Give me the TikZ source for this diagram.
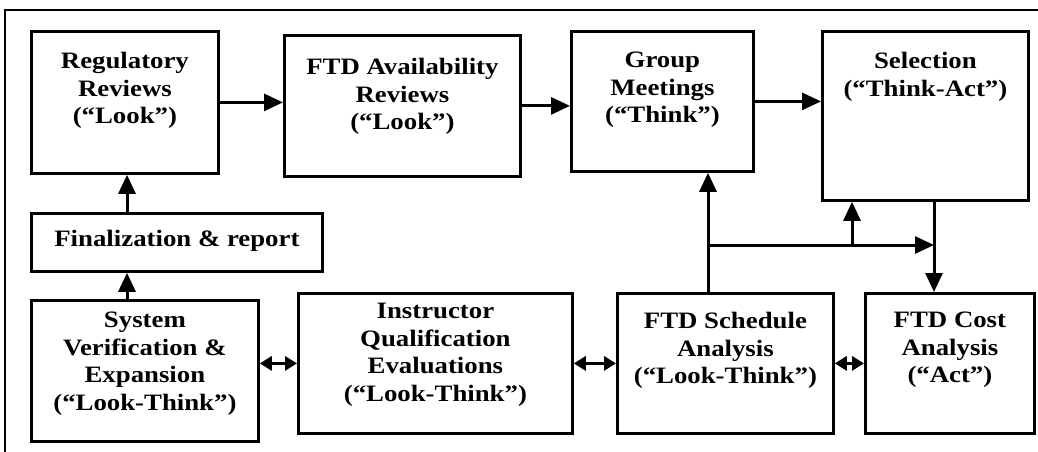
\documentclass[tikz,border=0pt]{standalone}
\usepackage{fontspec}
\setmainfont{Liberation Serif}[FakeStretch=1.14]
\usepackage{tikz}
\usetikzlibrary{arrows.meta,positioning,calc}

\begin{document}
\begin{tikzpicture} [x=1pt, y=-1pt,
	   activitybox/.style 2 args = {rectangle, minimum width=#1, minimum height=#2,
	                                line width=2.8pt, draw=black, inner sep=0pt, anchor=north west},
	   boxtext/.style = {font=\bfseries\fontsize{23.5}{27.5}\selectfont, align=center, inner sep=0pt},
	   arrowline/.style = {line width=3pt, -{Triangle[length=19pt,width=17pt]}},
	   twoway/.style = {line width=3pt, {Triangle[length=12pt,width=14pt]}-{Triangle[length=12pt,width=14pt]}}]
	\useasboundingbox (0,0) rectangle (1038,452);
	%% Frame
	\draw [line width=1.8pt] (5,452) -- (5,10) -- (1038,10);
	%% Top row
	\node [activitybox={187pt}{142pt},
	       label={[boxtext,anchor=north,yshift=-22pt]north:{Regulatory\\Reviews\\(“Look”)}}] (reg) at (30,30) {};
	\node [activitybox={236pt}{141pt},
	       label={[boxtext,anchor=north,yshift=-24pt]north:{FTD Availability\\Reviews\\(“Look”)}}] (ftdavail) at (283,34) {};
	\node [activitybox={182pt}{140pt},
	       label={[boxtext,anchor=north,yshift=-22pt]north:{Group\\Meetings\\(“Think”)}}] (group) at (570,30) {};
	\node [activitybox={206pt}{169pt},
	       label={[boxtext,anchor=north,yshift=-22pt]north:{Selection\\(“Think-Act”)}}] (sel) at (821,30) {};
	%% Middle
	\node [activitybox={291pt}{58pt},
	       label={[boxtext,anchor=north,yshift=-18pt]north:{Finalization \& report}}] (final) at (30,212) {};
	%% Bottom row
	\node [activitybox={227pt}{141pt},
	       label={[boxtext,anchor=north,yshift=-13pt]north:{System\\Verification \&\\Expansion\\(“Look-Think”)}}] (sysver) at (30,299) {};
	\node [activitybox={274pt}{140pt},
	       label={[boxtext,anchor=north,yshift=-11pt]north:{Instructor\\Qualification\\Evaluations\\(“Look-Think”)}}] (instr) at (297,292) {};
	\node [activitybox={216pt}{140pt},
	       label={[boxtext,anchor=north,yshift=-20pt]north:{FTD Schedule\\Analysis\\(“Look-Think”)}}] (sched) at (616,292) {};
	\node [activitybox={169pt}{140pt},
	       label={[boxtext,anchor=north,yshift=-20pt]north:{FTD Cost\\Analysis\\(“Act”)}}] (cost) at (864,292) {};
	%% Junction points
	\coordinate (hub) at (708,245);
	\coordinate (tap) at (852,245);
	\coordinate (drop) at (934,245);
	\coordinate (upline) at (127,0);
	%% Connectors
	\draw [arrowline] (reg.east) -- (reg.east -| ftdavail.west);
	\draw [arrowline] (ftdavail.east) -- (ftdavail.east -| group.west);
	\draw [arrowline] (group.east) -- (group.east -| sel.west);
	\draw [arrowline] (final.north -| upline) -- (reg.south -| upline);
	\draw [arrowline] (sysver.north -| upline) -- (final.south -| upline);
	\draw [twoway] (sysver.east |- instr.west) -- (instr.west);
	\draw [twoway] (instr.east) -- (sched.west);
	\draw [twoway] (sched.east) -- (sched.east -| cost.west);
	\draw [arrowline] (sched.north -| hub) -- (group.south -| hub);
	\draw [arrowline] (hub) -- (drop);
	\draw [arrowline] (tap) -- (sel.south -| tap);
	\draw [arrowline] (sel.south -| drop) -- (cost.north -| drop);
\end{tikzpicture}
\end{document}
